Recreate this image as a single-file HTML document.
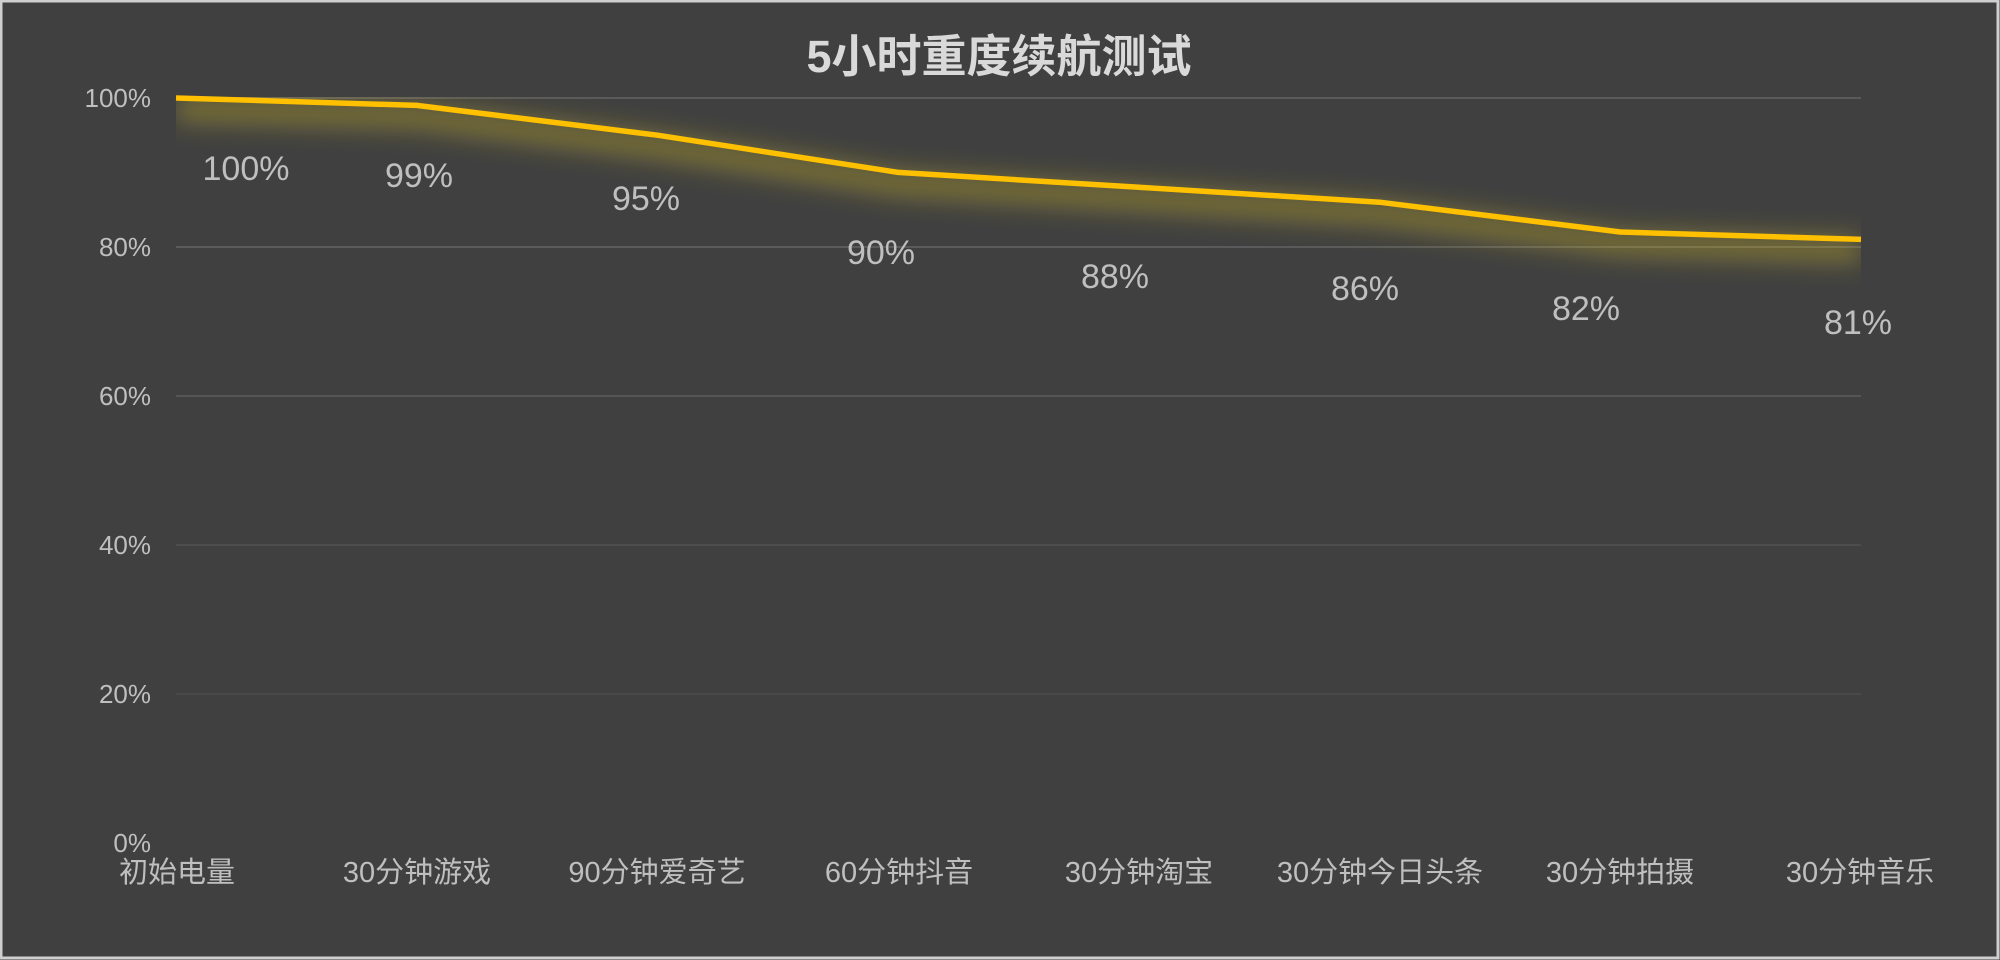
<!DOCTYPE html>
<html>
<head>
<meta charset="utf-8">
<style>
  html, body { margin:0; padding:0; background:#404040; }
  body { width:2000px; height:960px; overflow:hidden; }
  svg { display:block; }
  .t { font-family:"Liberation Sans","Noto Sans CJK SC",sans-serif; }
</style>
</head>
<body>
<svg width="2000" height="960" viewBox="0 0 2000 960" xmlns="http://www.w3.org/2000/svg">
  <defs>
    <filter id="blur" x="-10%" y="-80%" width="120%" height="260%">
      <feGaussianBlur stdDeviation="12"/>
    </filter>
    <clipPath id="plot">
      <rect x="176" y="97" width="1685" height="745"/>
    </clipPath>
  </defs>

  <rect x="0" y="0" width="2000" height="960" fill="#404040"/>
  <rect x="1" y="1" width="1997" height="957" fill="none" stroke="#cfcfcf" stroke-width="3"/>

  <text class="t" x="999" y="72" text-anchor="middle" font-size="45" font-weight="bold" fill="#d9d9d9">5小时重度续航测试</text>

  <g stroke-width="2">
    <line x1="176" y1="98" x2="1861" y2="98" stroke="#5a5a5a"/>
    <line x1="176" y1="247" x2="1861" y2="247" stroke="#5a5a5a"/>
    <line x1="176" y1="396" x2="1861" y2="396" stroke="#555555"/>
    <line x1="176" y1="545" x2="1861" y2="545" stroke="#4d4d4d"/>
    <line x1="176" y1="694" x2="1861" y2="694" stroke="#494949"/>
  </g>

  <g class="t" font-size="26" fill="#bfbfbf" text-anchor="end">
    <text x="151" y="107">100%</text>
    <text x="151" y="256">80%</text>
    <text x="151" y="405">60%</text>
    <text x="151" y="554">40%</text>
    <text x="151" y="703">20%</text>
    <text x="151" y="852">0%</text>
  </g>

  <g clip-path="url(#plot)">
    <polyline points="176,98 416.7,105.4 657.4,135.2 898.1,172.4 1138.9,187.3 1379.6,202.2 1620.3,232 1861,239.4"
      fill="none" stroke="#e8cc30" stroke-opacity="0.34" stroke-width="26" stroke-linejoin="round"
      transform="translate(0,11)" filter="url(#blur)"/>
  </g>

  <polyline points="176,98 416.7,105.4 657.4,135.2 898.1,172.4 1138.9,187.3 1379.6,202.2 1620.3,232 1861,239.4"
    fill="none" stroke="#ffc000" stroke-width="5.5" stroke-linejoin="round"/>

  <g class="t" font-size="34" fill="#bfbfbf" text-anchor="middle">
    <text x="246" y="180">100%</text>
    <text x="419" y="187">99%</text>
    <text x="646" y="210">95%</text>
    <text x="881" y="264">90%</text>
    <text x="1115" y="288">88%</text>
    <text x="1365" y="300">86%</text>
    <text x="1586" y="320">82%</text>
    <text x="1858" y="334">81%</text>
  </g>

  <g class="t" font-size="29" fill="#bfbfbf" text-anchor="middle">
    <text x="177" y="882">初始电量</text>
    <text x="417" y="882">30分钟游戏</text>
    <text x="657" y="882">90分钟爱奇艺</text>
    <text x="899" y="882">60分钟抖音</text>
    <text x="1139" y="882">30分钟淘宝</text>
    <text x="1380" y="882">30分钟今日头条</text>
    <text x="1620" y="882">30分钟拍摄</text>
    <text x="1860" y="882">30分钟音乐</text>
  </g>
</svg>
</body>
</html>
